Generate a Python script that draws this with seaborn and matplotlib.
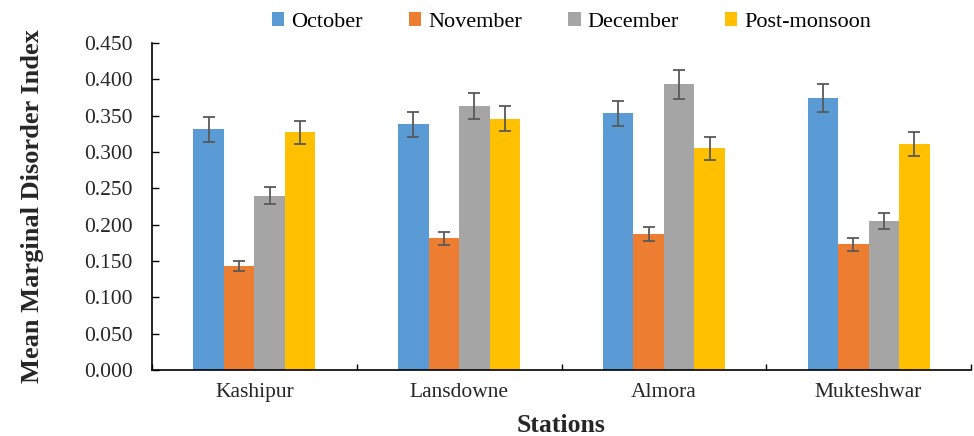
import matplotlib
matplotlib.use("Agg")
import matplotlib.pyplot as plt
import numpy as np
import pandas as pd
import seaborn as sns
from matplotlib.ticker import FormatStrFormatter, FixedLocator

# Mean Marginal Disorder Index per station and month, with standard errors
stations = ["Kashipur", "Lansdowne", "Almora", "Mukteshwar"]
months = ["October", "November", "December", "Post-monsoon"]

october = [0.331, 0.338, 0.353, 0.374]
november = [0.143, 0.181, 0.187, 0.173]
december = [0.240, 0.363, 0.393, 0.205]
post_monsoon = [0.327, 0.346, 0.305, 0.311]

october_err = [0.017, 0.017, 0.0175, 0.019]
november_err = [0.007, 0.0085, 0.010, 0.0087]
december_err = [0.012, 0.018, 0.0195, 0.0105]
post_monsoon_err = [0.016, 0.017, 0.0155, 0.016]

colors = ["#5B9BD5", "#ED7D31", "#A5A5A5", "#FFC000"]

values = [october, november, december, post_monsoon]
errors = [october_err, november_err, december_err, post_monsoon_err]

df = pd.DataFrame({
    "Stations": np.tile(stations, len(months)),
    "Month": np.repeat(months, len(stations)),
    "Value": np.concatenate(values),
    "Err": np.concatenate(errors),
})

sns.set_theme(style="white")
plt.rcParams["font.family"] = ["Liberation Serif", "DejaVu Serif"]

fig = plt.figure(figsize=(9.74, 4.36), dpi=100)
ax = fig.add_axes([152 / 974, 1 - 370 / 436, (971 - 152) / 974, (370 - 43) / 436])

sns.barplot(data=df, x="Stations", y="Value", hue="Month", order=stations,
            hue_order=months, palette=colors, errorbar=None, width=0.596,
            saturation=1, linewidth=0, ax=ax)

# error bars placed at the centres of the drawn bars
bars = [p for p in ax.patches if p.get_width() > 0 and p.get_height() > 0]
for p in bars:
    cx = p.get_x() + p.get_width() / 2
    h = p.get_height()
    sel = df[np.isclose(df["Value"], h)]
    err = sel["Err"].iloc[0]
    ax.errorbar(cx, h, yerr=err, fmt="none", ecolor="#595959",
                elinewidth=1.3, capsize=4.2, capthick=1.3, zorder=5)

ax.set_ylim(0, 0.45)
ax.set_xlim(-0.5, 3.5)
ax.set_yticks(np.arange(0, 0.451, 0.05))
ax.yaxis.set_major_formatter(FormatStrFormatter("%.3f"))

ax.xaxis.set_minor_locator(FixedLocator([-0.5, 0.5, 1.5, 2.5, 3.5]))
ax.tick_params(axis="x", which="both", direction="in", length=4, width=1,
               color="black", labelsize=15.5, pad=9)
ax.tick_params(axis="y", direction="in", length=5, width=1, color="black",
               labelsize=15.5, pad=14, left=True)
ax.tick_params(axis="x", which="both", bottom=True)

for s in ["top", "right"]:
    ax.spines[s].set_visible(False)
for s in ["left", "bottom"]:
    ax.spines[s].set_color("black")
    ax.spines[s].set_linewidth(1.2)

ax.set_xlabel("Stations", fontsize=18.5, fontweight="bold", labelpad=9)
ax.set_ylabel("Mean Marginal Disorder Index", fontsize=19, fontweight="bold",
              labelpad=29)

leg = ax.legend(loc="center", bbox_to_anchor=(0.5 + 10 / 819, 1 + (43 - 22) / 327),
                ncol=4, frameon=False, fontsize=16, handlelength=0.55,
                handleheight=0.55, handletextpad=0.3, columnspacing=2.1,
                borderaxespad=0)
for t in leg.get_texts():
    t.set_color("black")

fig.savefig("out.png", dpi=100)
